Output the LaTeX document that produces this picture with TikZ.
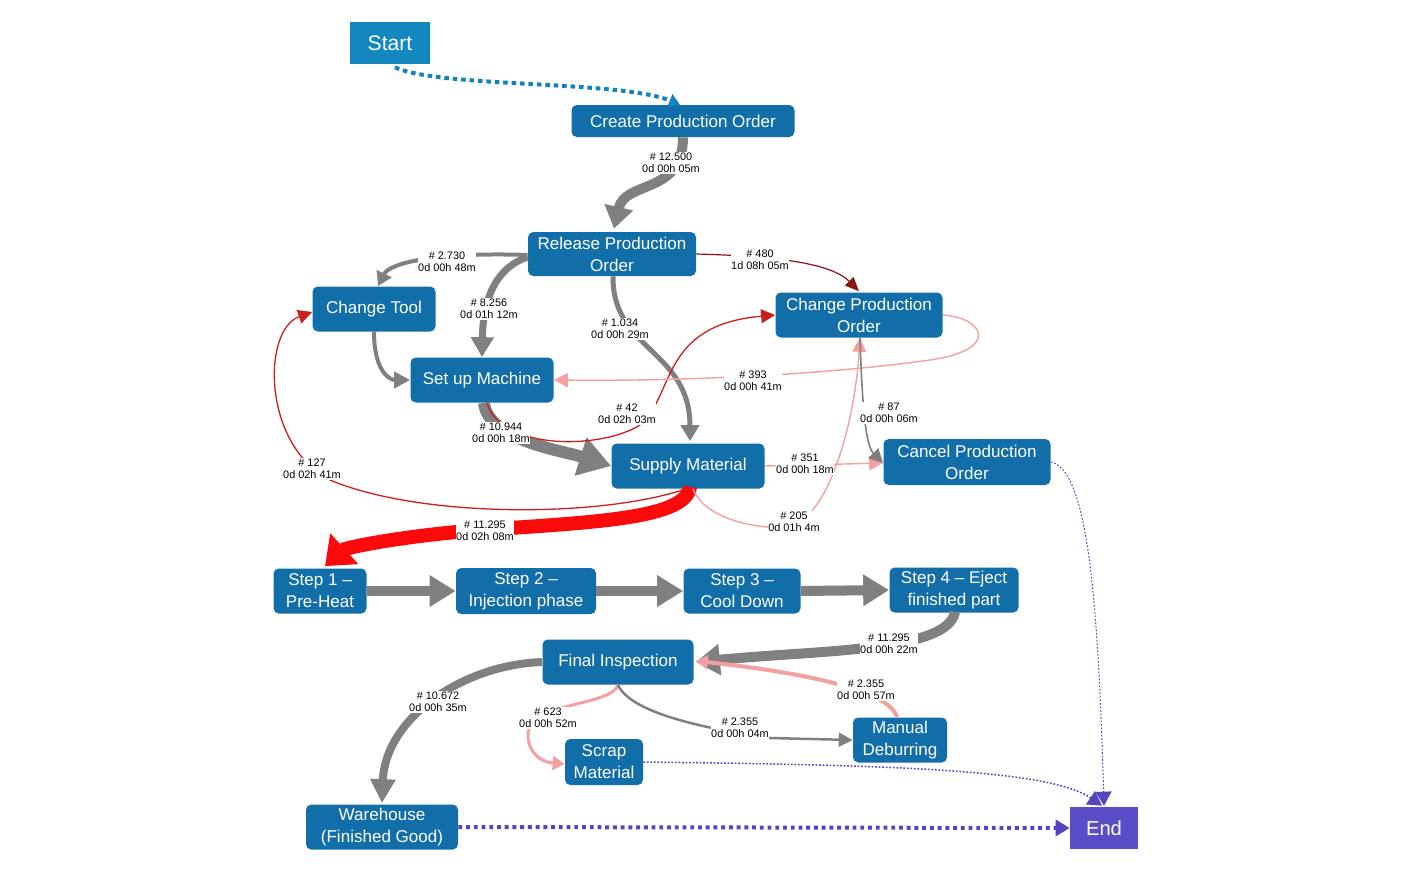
\documentclass[tikz,border=0pt]{standalone}
\usepackage{fontspec}
\setmainfont{Liberation Sans}
\usetikzlibrary{arrows.meta,calc}
\definecolor{nodeblue}{RGB}{17,110,168}
\definecolor{startblue}{RGB}{18,136,190}
\definecolor{endpurple}{RGB}{90,78,200}
\definecolor{dotpurple}{RGB}{85,70,190}
\definecolor{arrgrey}{RGB}{128,128,128}
\definecolor{redthick}{RGB}{250,10,10}
\definecolor{redthin}{RGB}{205,30,30}
\definecolor{pinkc}{RGB}{244,160,160}
\definecolor{darkred}{RGB}{140,20,20}
\definecolor{tealdot}{RGB}{20,130,190}
\tikzset{
  sz/.style 2 args={minimum width=#1*0.02cm, minimum height=#2*0.02cm},
  proc/.style={fill=nodeblue, rounded corners=3pt, text=white, align=center,
    inner sep=0pt, font=\fontsize{9.7}{12.5}\selectfont},
  lbl/.style={fill=white, inner sep=0.4pt, align=center, text=black,
    font=\fontsize{6.2}{6.9}\selectfont},
  greyarr/.style={draw=arrgrey, line width=#1*0.02cm},
  tipg/.style 2 args={-{Triangle[length=#1*0.02cm, width=#2*0.02cm]}},
}
\begin{document}
\begin{tikzpicture}[x=0.02cm,y=-0.02cm]
\useasboundingbox (0,0) rectangle (1410,873);
% nodes
\node[fill=startblue, text=white, inner sep=0pt, sz={80}{42}, font=\fontsize{12}{14}\selectfont] (start) at (390,43) {Start};
\node[proc, sz={223}{32}] (create) at (683,121) {Create Production Order};
\node[proc, sz={168}{44}] (release) at (612,254) {Release Production\\Order};
\node[proc, sz={123}{45}] (ctool) at (374,309) {Change Tool};
\node[proc, sz={143}{45}] (setup) at (482,380) {Set up Machine};
\node[proc, sz={167}{45}] (cpo) at (859,315) {Change Production\\Order};
\node[proc, sz={153}{45}] (supply) at (688,466) {Supply Material};
\node[proc, sz={167}{46}] (cancel) at (967,462) {Cancel Production\\Order};
\node[proc, sz={93}{45}] (s1) at (320,591) {Step 1 --\\Pre-Heat};
\node[proc, sz={140}{46}] (s2) at (526,591) {Step 2 --\\Injection phase};
\node[proc, sz={117}{45}] (s3) at (742,591) {Step 3 --\\Cool Down};
\node[proc, sz={129}{45}] (s4) at (954,590) {Step 4 -- Eject\\finished part};
\node[proc, sz={151}{45}] (final) at (618,662) {Final Inspection};
\node[proc, sz={78}{46}] (scrap) at (604,762) {Scrap\\Material};
\node[proc, sz={94}{45}] (manual) at (900,740) {Manual\\Deburring};
\node[proc, sz={152}{45}] (ware) at (382,827) {Warehouse\\(Finished Good)};
\node[fill=endpurple, text=white, inner sep=0pt, sz={68}{42}, font=\fontsize{11.5}{14}\selectfont] (end) at (1104,828) {End};

% edges
\draw[draw=tealdot, line width=0.08cm, dash pattern=on 2.6pt off 2.2pt,
  -{Triangle[length=0.22cm,width=0.26cm]}]
  ($(start.south)+(5,3)$) .. controls (440,88) and (620,80) .. ($(create.north)+(-3,0)$);
\draw[greyarr=10, tipg={22}{28}]
  (create.south) .. controls (683,195) and (625,180) .. ($(release.north)+(2,-3)$);
\draw[greyarr=4, tipg={14}{16}]
  ($(release.west)+(0,1)$) .. controls (440,252) and (390,262) .. ($(ctool.north)+(4,0)$);
\draw[greyarr=7, tipg={20}{22}]
  ($(release.west)+(0,3)$) .. controls (495,268) and (483,300) .. (setup.north);
\draw[greyarr=5, tipg={16}{18}]
  ($(release.south)+(1,0)$) .. controls (612,350) and (690,350) .. ($(supply.north)+(2,-2)$);
\draw[draw=darkred, line width=1.2*0.02cm, tipg={14}{12}]
  (release.east) .. controls (770,256) and (830,262) .. ($(cpo.north)+(0,-1)$);
\draw[greyarr=4, tipg={16}{16}]
  (ctool.south) .. controls (374,372) and (390,380) .. (setup.west);
\draw[greyarr=12, tipg={32}{38}]
  ($(setup.south)+(2,0)$) .. controls (488,440) and (560,450) .. (supply.west);
\draw[draw=redthin, line width=1.3*0.02cm, tipg={14}{14}]
  ($(setup.south)+(5,0)$) .. controls (500,450) and (600,450) .. (640,425)
  .. controls (675,395) and (660,325) .. ($(cpo.west)+(0,0)$);
\draw[draw=pinkc, line width=1.4*0.02cm, tipg={14}{14}]
  (cpo.east) .. controls (985,318) and (1000,350) .. (930,360)
  .. controls (800,378) and (650,381) .. (setup.east);
\draw[draw=redthin, line width=1.3*0.02cm, tipg={14}{14}]
  ($(supply.south)+(-2,0)$) .. controls (600,518) and (420,518) .. (330,480)
  .. controls (262,445) and (262,330) .. ($(ctool.west)+(0,3)$);
\draw[draw=redthick, line width=0.28cm, tipg={26}{40}]
  ($(supply.south)+(2,-2)$) .. controls (686,518) and (600,522) .. (480,530)
  .. controls (400,536) and (345,548) .. ($(s1.north)+(5,-2)$);
\draw[draw=pinkc, line width=1.4*0.02cm, tipg={14}{14}]
  (supply.east) -- ($(cancel.west)+(0,1)$);
\draw[draw=pinkc, line width=1.4*0.02cm, tipg={14}{14}]
  ($(supply.south)+(5,0)$) .. controls (705,520) and (760,530) .. (790,527)
  .. controls (830,515) and (855,420) .. ($(cpo.south)+(1,0)$);
\draw[draw=arrgrey, line width=1.6*0.02cm, tipg={14}{14}]
  ($(cpo.south)+(1,0)$) .. controls (862,400) and (865,445) .. ($(cancel.west)+(0,1)$);
\draw[draw=dotpurple, line width=1*0.02cm, dash pattern=on 1pt off 1pt, tipg={14}{16}]
  (cancel.east) .. controls (1088,470) and (1098,600) .. ($(end.north)+(0,-1)$);
\draw[greyarr=10, tipg={26}{30}] (s1.east) -- (s2.west);
\draw[greyarr=10, tipg={26}{30}] (s2.east) -- (s3.west);
\draw[greyarr=10, tipg={26}{30}] (s3.east) -- (s4.west);
\draw[greyarr=10, tipg={24}{30}]
  ($(s4.south)+(1,-1)$) .. controls (948,652) and (820,650) .. ($(final.east)+(2,0)$);
\draw[draw=pinkc, line width=4*0.02cm, tipg={12}{14}]
  ($(manual.north)+(-3,0)$) .. controls (890,690) and (800,672) .. ($(final.east)+(2,-1)$);
\draw[greyarr=8, tipg={24}{24}]
  (final.west) .. controls (460,665) and (385,720) .. ($(ware.north)+(0,-1)$);
\draw[draw=pinkc, line width=3*0.02cm, tipg={12}{14}]
  (final.south) .. controls (612,706) and (528,702) .. (528,735)
  .. controls (528,752) and (540,762) .. ($(scrap.west)+(0,2)$);
\draw[draw=arrgrey, line width=2.5*0.02cm, tipg={14}{14}]
  (final.south) .. controls (630,712) and (700,728) .. (770,738) -- (manual.west);
\draw[draw=dotpurple, line width=1.5*0.02cm, dash pattern=on 1pt off 1pt, tipg={14}{16}]
  (scrap.east) .. controls (900,765) and (1050,770) .. ($(end.north)+(-2,-1)$);
\draw[draw=dotpurple, line width=4*0.02cm, dash pattern=on 2.2pt off 2.2pt, tipg={14}{16}]
  (ware.east) -- (end.west);

% labels
\node[lbl] (l1) at (671,163) {\# 12.500\\0d 00h 05m};
\node[lbl] (l2) at (447,262) {\# 2.730\\0d 00h 48m};
\node[lbl] (l3) at (489,309) {\# 8.256\\0d 01h 12m};
\node[lbl] (l4) at (620,329) {\# 1.034\\0d 00h 29m};
\node[lbl] (l5) at (760,260) {\# 480\\1d 08h 05m};
\node[lbl] (l6) at (753,381) {\# 393\\0d 00h 41m};
\node[lbl] (l7) at (627,414) {\# 42\\0d 02h 03m};
\node[lbl] (l8) at (501,433) {\# 10.944\\0d 00h 18m};
\node[lbl] (l9) at (889,413) {\# 87\\0d 00h 06m};
\node[lbl] (l10) at (312,469) {\# 127\\0d 02h 41m};
\node[lbl] (l11) at (805,464) {\# 351\\0d 00h 18m};
\node[lbl] (l12) at (794,522) {\# 205\\0d 01h 4m};
\node[lbl] (l13) at (485,531) {\# 11.295\\0d 02h 08m};
\node[lbl] (l14) at (889,644) {\# 11.295\\0d 00h 22m};
\node[lbl] (l15) at (866,690) {\# 2.355\\0d 00h 57m};
\node[lbl] (l16) at (438,702) {\# 10.672\\0d 00h 35m};
\node[lbl] (l17) at (548,718) {\# 623\\0d 00h 52m};
\node[lbl] (l18) at (740,728) {\# 2.355\\0d 00h 04m};
\end{tikzpicture}
\end{document}
